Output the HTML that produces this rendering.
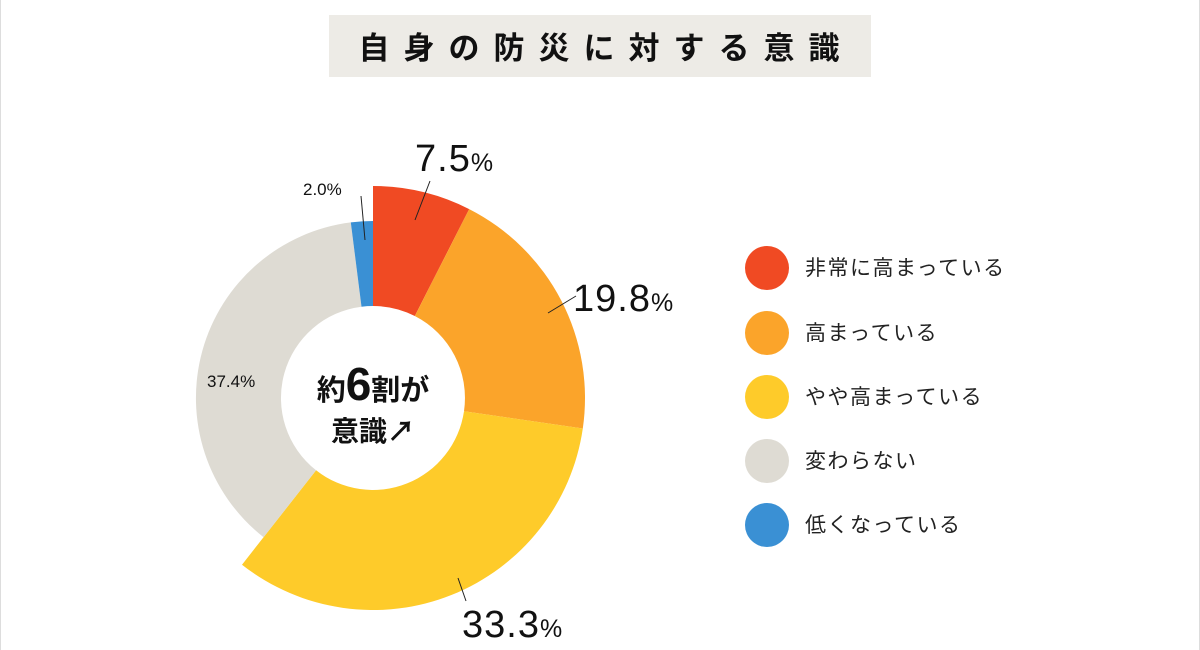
<!DOCTYPE html>
<html><head><meta charset="utf-8"><style>
html,body{margin:0;padding:0;background:#fff;}
body{width:1200px;height:650px;overflow:hidden;position:relative;font-family:"Liberation Sans","Noto Sans CJK JP",sans-serif;}
.frame{position:absolute;left:0;top:0;width:1198px;height:650px;border-left:1px solid #ddd;border-right:1px solid #ddd;}
</style></head><body>
<div class="frame"></div>
<svg width="1200" height="650" style="position:absolute;left:0;top:0" font-family="Liberation Sans, Noto Sans CJK JP, sans-serif">
<rect x="329" y="15" width="542" height="62" fill="#EDEBE6"/>
<text x="606" y="59" text-anchor="middle" font-size="31" font-weight="bold" letter-spacing="14" fill="#111">自身の防災に対する意識</text>
<path d="M373,186 A212,212 0 0 1 469.2,209.1 L414.8,316 A92,92 0 0 0 373,306 Z" fill="#F04A23"/>
<path d="M469.2,209.1 A212,212 0 0 1 582.8,428.5 L464,411.2 A92,92 0 0 0 414.8,316 Z" fill="#FBA42A"/>
<path d="M582.8,428.5 A212,212 0 0 1 242,564.7 L316.1,470.3 A92,92 0 0 0 464,411.2 Z" fill="#FECB2A"/>
<path d="M263.6,537.2 A177,177 0 0 1 350.8,222.4 L361.5,306.7 A92,92 0 0 0 316.1,470.3 Z" fill="#DEDBD3"/>
<path d="M350.8,222.4 A177,177 0 0 1 373,221 L373,306 A92,92 0 0 0 361.5,306.7 Z" fill="#3A90D4"/>
<g stroke="#222" stroke-width="1">
<line x1="430" y1="181" x2="415" y2="220"/>
<line x1="576" y1="296" x2="548" y2="313"/>
<line x1="458" y1="578" x2="466" y2="601"/>
<line x1="361" y1="196" x2="365" y2="240"/>
</g>
<g fill="#111">
<text x="415" y="171" font-size="38" letter-spacing="1">7.5<tspan font-size="25">%</tspan></text>
<text x="573" y="311" font-size="38" letter-spacing="1">19.8<tspan font-size="25">%</tspan></text>
<text x="462" y="637" font-size="38" letter-spacing="1">33.3<tspan font-size="25">%</tspan></text>
<text x="303" y="195" font-size="17">2.0%</text>
<text x="207" y="387" font-size="17">37.4%</text>
<text x="373" y="400" text-anchor="middle" font-size="29" font-weight="bold">約<tspan font-size="46">6</tspan>割が</text>
<text x="373" y="441" text-anchor="middle" font-size="28" font-weight="bold">意識↗</text>
</g>
<g font-size="21" fill="#222" letter-spacing="1.5">
<circle cx="767" cy="268" r="22" fill="#F04A23"/><text x="805" y="275">非常に高まっている</text>
<circle cx="767" cy="333" r="22" fill="#FBA42A"/><text x="805" y="340">高まっている</text>
<circle cx="767" cy="397" r="22" fill="#FECB2A"/><text x="805" y="404">やや高まっている</text>
<circle cx="767" cy="461" r="22" fill="#DEDBD3"/><text x="805" y="468">変わらない</text>
<circle cx="767" cy="525" r="22" fill="#3A90D4"/><text x="805" y="532">低くなっている</text>
</g>
</svg>
</body></html>
